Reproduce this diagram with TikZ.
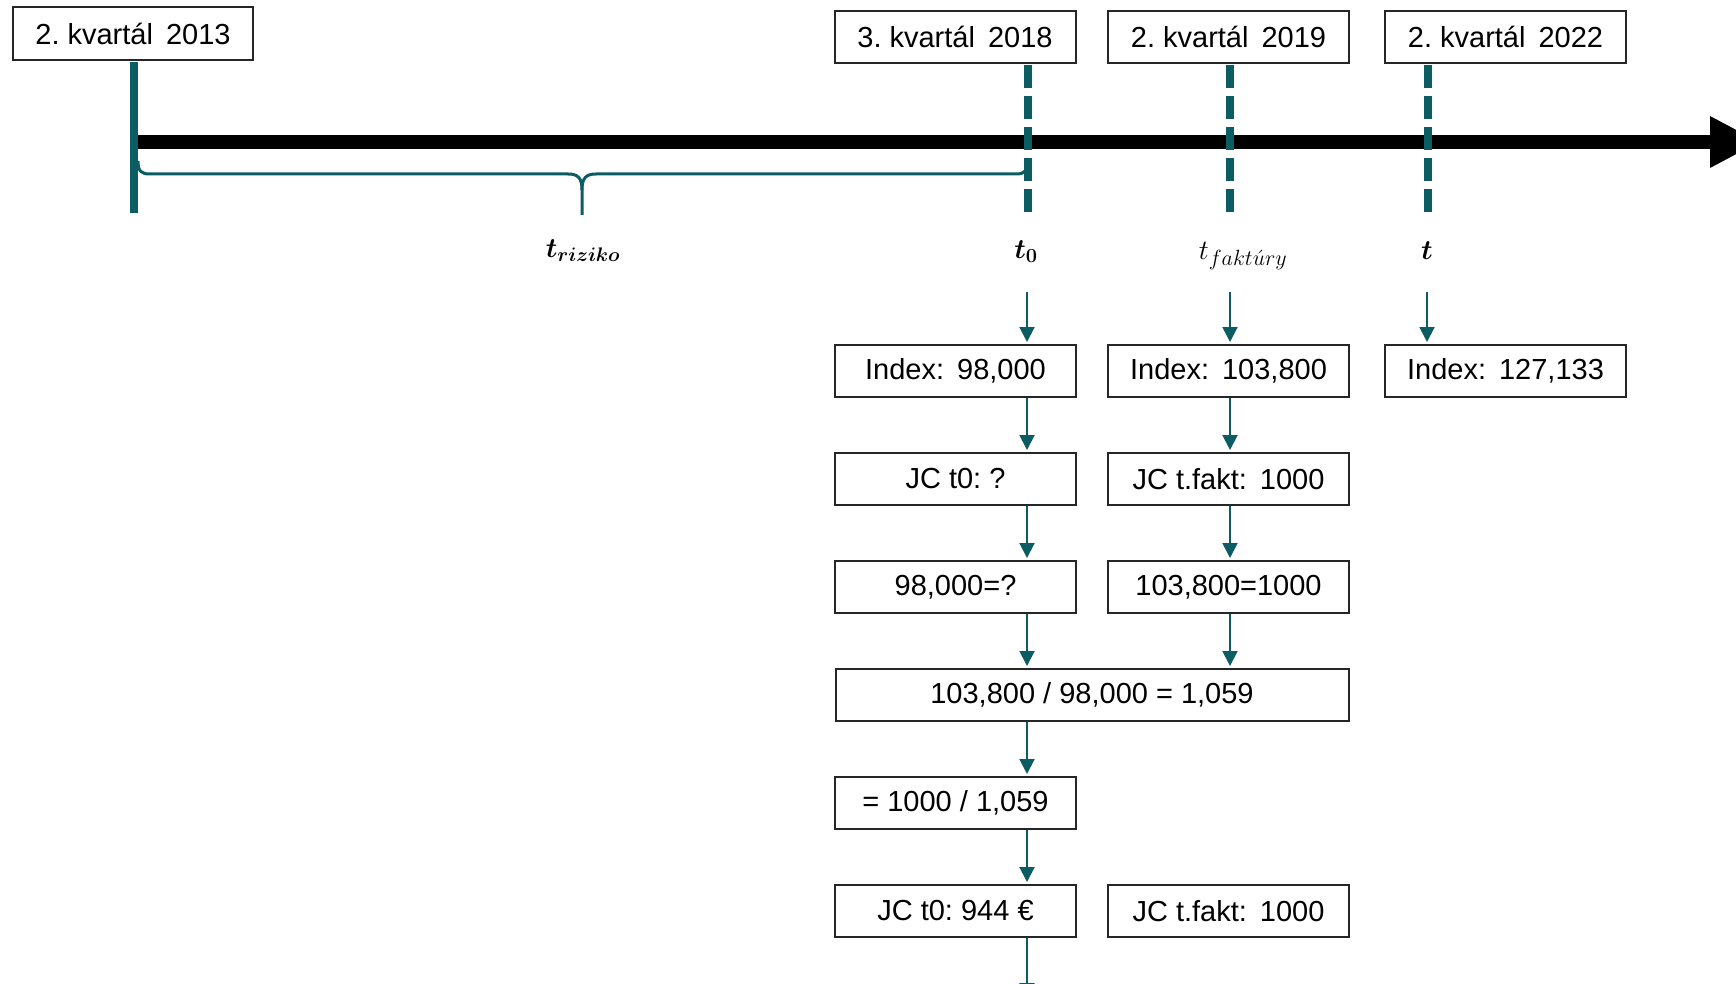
\RequirePackage{fix-cm}
\documentclass[tikz,border=0pt]{standalone}
\usepackage{fontspec}
\setmainfont{Liberation Sans}
\usepackage{amsmath}
\usepackage{bm}
\usetikzlibrary{arrows.meta}
\definecolor{tealA}{RGB}{12,92,99}
\newcommand{\wsp}{\hspace{0.45em}}
\newcommand{\subsz}[2]{\text{\fontsize{#1}{#1}\selectfont$#2$}}
\frenchspacing
\begin{document}
\begin{tikzpicture}[x=1pt,y=-1pt,
  box/.style={draw=black!85, line width=2pt, minimum width=241pt, minimum height=52pt, inner sep=0pt, fill=white, font=\fontsize{29}{34}\selectfont},
  arr/.style={draw=tealA, line width=2pt, -{Triangle[width=15pt,length=15pt]}, fill=tealA, shorten >=2pt},
  solidtick/.style={draw=tealA, line width=8pt},
  dashtick/.style={draw=tealA, line width=8pt, dash pattern=on 23pt off 8pt},
  bracepath/.style={draw=tealA, line width=3pt},
  lbl/.style={font=\fontsize{28}{32}\selectfont}
]
\useasboundingbox (0,0) rectangle (1736,984);

% timeline
\coordinate (ts) at (136,142);
\coordinate (te) at (1760,142);
\draw[line width=14pt, -{Triangle[width=48pt,length=50pt]}] (ts) -- (te);

% brace
\draw[bracepath] (138,161) .. controls (138,171) and (141,174) .. (150,174) -- (568,174)
  .. controls (578,174) and (582,178) .. (582,190) -- (582,215);
\draw[bracepath] (582,190) .. controls (582,178) and (586,174) .. (596,174) -- (1016,174)
  .. controls (1025,174) and (1028,171) .. (1028,158);

% ticks
\coordinate (s0) at (134,62);
\coordinate (s1) at (134,213);
\draw[solidtick] (s0) -- (s1);
\coordinate (d0a) at (1028,65);  \coordinate (d0b) at (1028,216);
\coordinate (d1a) at (1230,65);  \coordinate (d1b) at (1230,216);
\coordinate (d2a) at (1428,65);  \coordinate (d2b) at (1428,216);
\draw[dashtick] (d0a) -- (d0b);
\draw[dashtick] (d1a) -- (d1b);
\draw[dashtick] (d2a) -- (d2b);

% date boxes
\node[box, minimum width=240pt, minimum height=53pt] (q13) at (133,33.5) {2. kvartál\wsp2013};
\node[box] (q18) at (955,37) {3. kvartál\wsp2018};
\node[box] (q19) at (1228.5,37) {2. kvartál\wsp2019};
\node[box] (q22) at (1505.5,37) {2. kvartál\wsp2022};

% labels
\node[lbl] (lr) at (583,251) {$\bm{t_{riziko}}$};
\node[lbl] (l0) at (1026,252) {$\bm{t}_{\subsz{20}{\bm{0}}}$};
\node[lbl] (l1) at (1243,256) {$t_{\subsz{22}{fakt\acute{u}ry}}$};
\node[lbl] (l2) at (1427,251) {$\bm{t}$};

% boxes
\node[box] (i0) at (955.5,371) {Index:\wsp98,000};
\node[box] (i1) at (1228.5,371) {Index:\wsp103,800};
\node[box] (i2) at (1505.5,371) {Index:\wsp127,133};
\node[box] (j0) at (955.5,479) {JC t0: ?};
\node[box] (j1) at (1228.5,479) {JC t.fakt:\wsp1000};
\node[box] (k0) at (955.5,587) {98,000=?};
\node[box] (k1) at (1228.5,587) {103,800=1000};
\node[box, minimum width=513pt] (w) at (1092,695) {103,800 / 98,000 = 1,059};
\node[box] (m) at (955.5,803) {= 1000 / 1,059};
\node[box] (n0) at (955.5,911) {JC t0: 944 €};
\node[box] (n1) at (1228.5,911) {JC t.fakt:\wsp1000};

% arrows
\coordinate (a0) at (1027,292);
\coordinate (a1) at (1230,292);
\coordinate (a2) at (1427,292);
\coordinate (bend) at (1027,998);
\draw[arr] (a0) -- (a0 |- i0.north);
\draw[arr] (a1) -- (a1 |- i1.north);
\draw[arr] (a2) -- (a2 |- i2.north);
\draw[arr] (i0.south -| a0) -- (j0.north -| a0);
\draw[arr] (i1.south -| a1) -- (j1.north -| a1);
\draw[arr] (j0.south -| a0) -- (k0.north -| a0);
\draw[arr] (j1.south -| a1) -- (k1.north -| a1);
\draw[arr] (k0.south -| a0) -- (w.north -| a0);
\draw[arr] (k1.south -| a1) -- (w.north -| a1);
\draw[arr] (w.south -| a0) -- (m.north -| a0);
\draw[arr] (m.south -| a0) -- (n0.north -| a0);
\draw[arr, shorten >=0pt] (n0.south -| a0) -- (bend);
\end{tikzpicture}
\end{document}
